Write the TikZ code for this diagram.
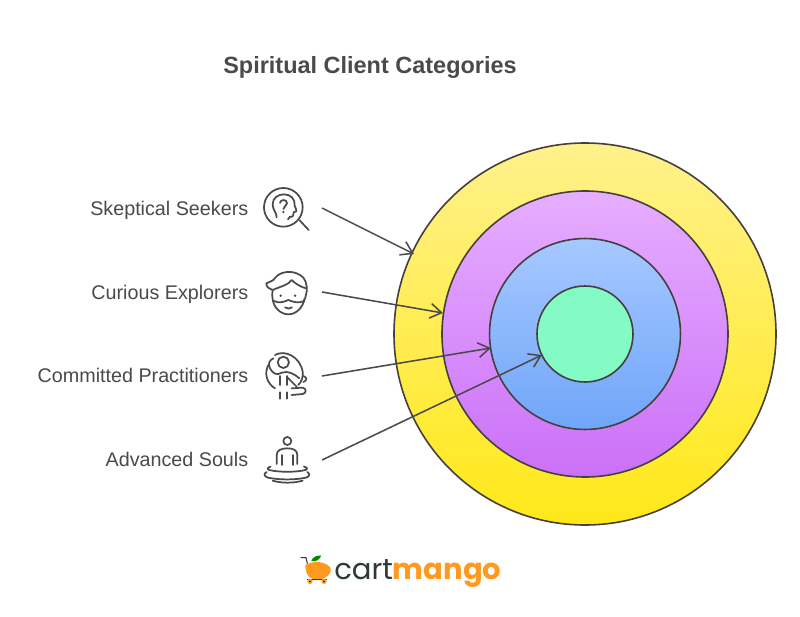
\documentclass[tikz,border=0pt]{standalone}
\usepackage{fontspec}
\setmainfont{Liberation Sans}
\newfontfamily\logofont{Poppins}
\usetikzlibrary{arrows.meta}
\definecolor{ink}{HTML}{4A4A4A}
\definecolor{ring}{HTML}{45403C}
\definecolor{mangoc}{HTML}{FF9A1E}
\definecolor{cartc}{HTML}{2A3A35}
\tikzset{
 ringnode/.style={circle,draw=ring,line width=1.2pt,inner sep=0pt,shading=axis,shading angle=0},
 lab/.style={anchor=base east,text=ink,font=\fontsize{14.8}{18}\selectfont,inner sep=0pt},
 conn/.style={draw=ink,line width=1.15pt,-{Straight Barb[length=8.5pt,width=11pt,line width=1.15pt]}},
 icon/.style={draw=ink,line width=1.3pt,line cap=round,line join=round,fill=none},
}
\begin{document}
\begin{tikzpicture}[x=0.75pt,y=-0.75pt]
\useasboundingbox (0,0) rectangle (800,617);
\fill[white] (0,0) rectangle (800,617);
\node[anchor=center,text=ink,font=\fontsize{17.6}{20}\selectfont\bfseries,inner sep=0pt] (title) at (370,67) {Spiritual Client Categories};
% rings
\node[ringnode,minimum size=286.5pt,top color={rgb,255:red,255;green,241;blue,140},bottom color={rgb,255:red,255;green,232;blue,24}] (r1) at (585,334) {};
\node[ringnode,minimum size=214.5pt,top color={rgb,255:red,230;green,174;blue,255},bottom color={rgb,255:red,203;green,112;blue,248}] (r2) at (585,334) {};
\node[ringnode,minimum size=143.2pt,top color={rgb,255:red,166;green,200;blue,255},bottom color={rgb,255:red,112;green,165;blue,250}] (r3) at (585,334) {};
\node[circle,draw=ring,line width=1.2pt,inner sep=0pt,fill={rgb,255:red,132;green,250;blue,196},minimum size=72pt] (r4) at (585,334) {};
% labels
\node[lab] (l1) at (248.5,215) {Skeptical Seekers};
\node[lab] (l2) at (248.5,299) {Curious Explorers};
\node[lab] (l3) at (248.5,382) {Committed Practitioners};
\node[lab] (l4) at (248.5,466) {Advanced Souls};
% connector ends
\coordinate (s1) at (322,208);
\coordinate (s2) at (322,292);
\coordinate (s3) at (322,376);
\coordinate (s4) at (322,460);
\coordinate (t1) at (414,254);
\coordinate (t2) at (443,313);
\coordinate (t3) at (491,348);
\coordinate (t4) at (542,355);
\draw[conn] (s1) -- (t1);
\draw[conn] (s2) -- (t2);
\draw[conn] (s3) -- (t3);
\draw[conn] (s4) -- (t4);
% icon 1: head in magnifier
\begin{scope}[shift={(250,175)},x=0.25pt,y=-0.25pt]
\draw[icon] (100,97) circle (58);
\draw[icon] (149,136) -- (176,165);
\draw[icon] (80,127) .. controls (80,112) and (68,105) .. (68,88) .. controls (68,68) and (85,58) .. (102,58) .. controls (122,58) and (136,72) .. (134,92) .. controls (136,100) and (141,106) .. (139,109) -- (131,112) .. controls (131,120) and (130,127) .. (120,125) -- (114,133);
\draw[icon] (90,84) .. controls (90,72) and (112,72) .. (111,85) .. controls (110,94) and (100,94) .. (100,102);
\fill[ink] (100,111) circle (4);
\end{scope}
% icon 2: mustached face
\begin{scope}[shift={(250,175)},x=0.25pt,y=-0.25pt]
\draw[icon] (68,345) .. controls (56,340) and (48,335) .. (49,325) .. controls (60,320) and (70,318) .. (76,308) .. controls (90,290) and (125,284) .. (150,300) .. controls (165,308) and (172,325) .. (170,350) -- (165,372);
\draw[icon] (68,345) .. controls (66,355) and (66,365) .. (68,372) .. controls (70,395) and (90,418) .. (115,418) .. controls (140,418) and (160,395) .. (163,372);
\draw[icon] (68,345) .. controls (90,335) and (115,330) .. (125,315) .. controls (135,325) and (150,335) .. (168,340);
\draw[icon] (72,378) .. controls (85,385) and (100,382) .. (115,375) .. controls (130,382) and (148,385) .. (163,378);
\draw[icon] (105,397) .. controls (112,402) and (120,402) .. (126,397);
\fill[ink] (92,362) circle (4);
\fill[ink] (135,362) circle (4);
\end{scope}
% icon 3: practitioner
\begin{scope}[shift={(250,340)},x=0.25pt,y=-0.25pt]
\draw[icon] (75,45) .. controls (105,28) and (150,50) .. (158,95) .. controls (160,110) and (155,125) .. (145,135);
\draw[icon] (55,75) .. controls (42,100) and (50,130) .. (75,145);
\draw[icon] (100,67) circle (17);
\draw[icon] (70,55) .. controls (60,60) and (52,70) .. (60,85) .. controls (68,100) and (80,108) .. (95,98) .. controls (115,92) and (130,100) .. (148,115);
\draw[icon] (90,108) -- (90,135) (110,108) -- (110,135);
\draw[icon] (110,110) -- (140,140);
\draw[icon] (90,157) -- (90,176) (110,157) -- (110,176);
\draw[icon] (125,145) -- (158,143) .. controls (170,145) and (170,160) .. (158,162) -- (125,165);
\draw[icon] (160,108) .. controls (172,112) and (172,122) .. (160,126);
\end{scope}
% icon 4: meditating figure
\begin{scope}[shift={(250,340)},x=0.25pt,y=-0.25pt]
\draw[icon] (112,303) circle (12);
\draw[icon] (80,372) -- (80,345) .. controls (80,330) and (95,325) .. (112,325) .. controls (129,325) and (142,330) .. (142,345) -- (142,372);
\draw[icon] (95,345) -- (95,375) (128,345) -- (128,375);
\draw[icon] (62,380) .. controls (52,382) and (50,388) .. (58,390) .. controls (85,397) and (140,397) .. (166,390) .. controls (174,388) and (172,382) .. (162,380);
\draw[icon] (50,396) .. controls (40,400) and (42,410) .. (54,413) .. controls (88,420) and (135,420) .. (168,413) .. controls (180,410) and (180,400) .. (172,396);
\draw[icon] (68,422) .. controls (95,430) and (130,430) .. (158,422);
\end{scope}
% logo
\begin{scope}[shift={(290,545)},x=0.25pt,y=-0.25pt]
\draw[cartc,line width=0.8pt,line cap=round] (33,38) -- (48,38) -- (52,55);
\fill[mangoc] (46,60) .. controls (70,46) and (105,48) .. (121,68) .. controls (128,88) and (105,102) .. (85,104) .. controls (62,106) and (46,92) .. (46,60);
\fill[green!55!black] (64,48) .. controls (68,36) and (80,30) .. (94,32) .. controls (88,44) and (78,52) .. (64,48);
\draw[cartc,line width=0.8pt] (52,103) -- (110,103);
\fill[mangoc] (60,109) circle (8);
\fill[mangoc] (102,109) circle (8);
\fill[cartc] (60,109) circle (3);
\fill[cartc] (102,109) circle (3);
\end{scope}
\node[anchor=base west,inner sep=0pt,font=\logofont\fontsize{21.8}{24}\selectfont] (logo) at (334,579) {\textcolor{cartc}{cart}\textcolor{mangoc}{\bfseries mango}};
\end{tikzpicture}
\end{document}
